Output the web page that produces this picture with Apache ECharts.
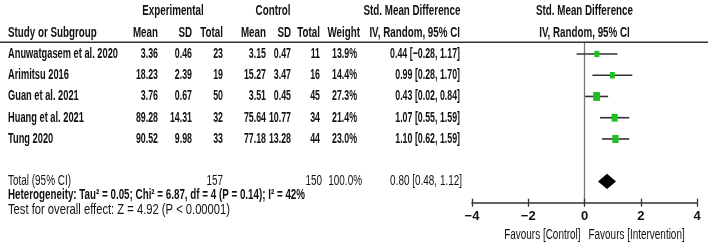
<!DOCTYPE html>
<html><head><meta charset="utf-8">
<script src="https://cdn.jsdelivr.net/npm/echarts@6/dist/echarts.min.js"></script>
<style>html,body{margin:0;padding:0;background:#fff}#c{width:709px;height:245px}</style>
</head><body><div id="c"></div>
<script>
// ---- data ----
const studies = ['Anuwatgasem et al. 2020', 'Arimitsu 2016', 'Guan et al. 2021', 'Huang et al. 2021', 'Tung 2020'];
const expMean = [3.36, 18.23, 3.76, 89.28, 90.52];
const expSD = [0.46, 2.39, 0.67, 14.31, 9.98];
const expN = [23, 19, 50, 32, 33];
const ctlMean = [3.15, 15.27, 3.51, 75.64, 77.18];
const ctlSD = [0.47, 3.47, 0.45, 10.77, 13.28];
const ctlN = [11, 16, 45, 34, 44];
const weight = [13.9, 14.4, 27.3, 21.4, 23.0];
const smd = [0.44, 0.99, 0.43, 1.07, 1.10];
const ciLow = [-0.28, 0.28, 0.02, 0.55, 0.62];
const ciHigh = [1.17, 1.70, 0.84, 1.59, 1.59];
const totalExpN = 157, totalCtlN = 150, totalWeight = 100.0;
const totalSMD = 0.80, totalLow = 0.48, totalHigh = 1.12;
const heterogeneityText = 'Heterogeneity: Tau² = 0.05; Chi² = 6.87, df = 4 (P = 0.14); I² = 42%';
const overallText = 'Test for overall effect: Z = 4.92 (P < 0.00001)';
const axisTicks = [-4, -2, 0, 2, 4];
const favourLeft = 'Favours [Control]';
const favourRight = 'Favours [Intervention]';

// ---- styling / layout ----
const FAM = '"Liberation Sans", Arial, sans-serif';
const FS = 14.5;
const TXT = '#111';
const ctx = document.createElement('canvas').getContext('2d');
function mw(s, w) { ctx.font = w + ' ' + FS + 'px ' + FAM; return ctx.measureText(s).width; }
// horizontal condensing factors (to mimic the narrow original typeface)
const S_HEAD = 297 / mw(heterogeneityText, 'bold');
const S_NAME = 110 / mw('Anuwatgasem et al. 2020', 'bold');
const S_NUM = S_HEAD * 0.9;
const S_TOT = 63 / mw('Total (95% CI)', 'normal');
const S_OVR = 222 / mw(overallText, 'normal');
const neg = s => s.replace('-', '−');
const ci = (m, l, h) => neg(m.toFixed(2)) + ' [' + neg(l.toFixed(2)) + ', ' + neg(h.toFixed(2)) + ']';
const TOTAL_ROW = 6, HET_ROW = 6.65, OVR_ROW = 7.36, AXIS_ROW = 7;

const chart = echarts.init(document.getElementById('c'), null, {renderer: 'canvas'});

function txt(x, y, s, align, bold, sc) {
  return {type: 'text', x: x, y: y, scaleX: sc,
    style: {text: s, fill: TXT, font: (bold ? 'bold ' : '') + FS + 'px ' + FAM, textAlign: align || 'right', textVerticalAlign: 'middle'}};
}

function tableItem(params, api) {
  const i = params.dataIndex;
  const y = api.coord([0, i])[1];
  const n = (x, s) => txt(x, y, s, 'right', true, S_NUM);
  return {type: 'group', children: [
    txt(8, y, studies[i], 'left', true, S_NAME),
    n(158, expMean[i].toFixed(2)),
    n(192, expSD[i].toFixed(2)),
    n(223, String(expN[i])),
    n(266, ctlMean[i].toFixed(2)),
    n(291, ctlSD[i].toFixed(2)),
    n(320, String(ctlN[i])),
    n(357, weight[i].toFixed(1) + '%'),
    n(460, ci(smd[i], ciLow[i], ciHigh[i]))
  ]};
}

function headerItem(params, api) {
  const y1 = api.coord([0, -2])[1];
  const y2 = api.coord([0, -1])[1];
  const yl = api.coord([0, -0.55])[1];
  const x0 = api.coord([0, 0])[0];
  const yt = api.coord([0, TOTAL_ROW])[1];
  const yh = api.coord([0, HET_ROW])[1];
  const yo = api.coord([0, OVR_ROW])[1];
  const h = (x, y, s, a) => txt(x, y, s, a || 'right', true, S_HEAD);
  const t = (x, s, a) => txt(x, yt, s, a || 'right', false, S_TOT);
  const ch = [
    h(173, y1, 'Experimental', 'center'),
    h(273, y1, 'Control', 'center'),
    h(412, y1, 'Std. Mean Difference', 'center'),
    h(x0, y1, 'Std. Mean Difference', 'center'),
    h(8, y2, 'Study or Subgroup', 'left'),
    h(158, y2, 'Mean'), h(192, y2, 'SD'), h(223, y2, 'Total'),
    h(266, y2, 'Mean'), h(291, y2, 'SD'), h(320, y2, 'Total'),
    h(360, y2, 'Weight'),
    h(460, y2, 'IV, Random, 95% CI'),
    h(x0, y2, 'IV, Random, 95% CI', 'center'),
    {type: 'line', shape: {x1: 0, y1: yl, x2: 708, y2: yl}, style: {stroke: '#333', lineWidth: 1.5}},
    t(8, 'Total (95% CI)', 'left'),
    t(223, String(totalExpN)),
    t(322, String(totalCtlN)),
    t(362, totalWeight.toFixed(1) + '%'),
    t(462, ci(totalSMD, totalLow, totalHigh)),
    h(8, yh, heterogeneityText, 'left'),
    txt(8, yo, overallText, 'left', false, S_OVR),
    txt(x0 - 4, 235, favourLeft, 'right', false, S_TOT),
    txt(x0 + 4, 235, favourRight, 'left', false, S_TOT)
  ];
  return {type: 'group', children: ch};
}

function forestItem(params, api) {
  const i = params.dataIndex;
  const a = api.coord([ciLow[i], i]);
  const b = api.coord([ciHigh[i], i]);
  const c = api.coord([smd[i], i]);
  const s = 1.3 * Math.sqrt(weight[i]);
  return {type: 'group', children: [
    {type: 'line', shape: {x1: a[0], y1: a[1], x2: b[0], y2: b[1]}, style: {stroke: '#333', lineWidth: 1.6}},
    {type: 'rect', shape: {x: c[0] - s / 2, y: c[1] - s * 0.65, width: s, height: s * 1.3}, style: {fill: '#1fbf1f'}}
  ]};
}

function diamondItem(params, api) {
  const l = api.coord([totalLow, TOTAL_ROW]);
  const h = api.coord([totalHigh, TOTAL_ROW]);
  const t = api.coord([totalSMD, TOTAL_ROW - 0.36]);
  const b = api.coord([totalSMD, TOTAL_ROW + 0.36]);
  return {type: 'polygon', shape: {points: [l, t, h, b]}, style: {fill: '#000'}};
}

const option = {
  animation: false,
  backgroundColor: '#fff',
  grid: {left: 472, width: 225, top: 42.3, height: 160.4},
  xAxis: [{
    type: 'value', min: axisTicks[0], max: axisTicks[axisTicks.length - 1], interval: axisTicks[1] - axisTicks[0],
    axisLine: {onZero: false, lineStyle: {color: '#333', width: 1.5}},
    axisTick: {length: 4, lineStyle: {color: '#333', width: 1.3}},
    axisLabel: {margin: 7, fontSize: 13, fontWeight: 'bold', fontFamily: FAM, color: TXT, formatter: v => neg(String(v))},
    splitLine: {show: false}
  }, {
    type: 'value', position: 'bottom', offset: 0, min: axisTicks[0], max: axisTicks[axisTicks.length - 1], interval: axisTicks[1] - axisTicks[0],
    axisLine: {show: false, onZero: false},
    axisTick: {inside: true, length: 4, lineStyle: {color: '#333', width: 1.3}},
    axisLabel: {show: false}, splitLine: {show: false}
  }],
  yAxis: {
    type: 'value', inverse: true, min: -0.55, max: AXIS_ROW,
    axisLine: {show: true, onZero: true, lineStyle: {color: '#777', width: 1.3}},
    axisTick: {show: false}, axisLabel: {show: false}, splitLine: {show: false}
  },
  series: [
    {type: 'custom', clip: false, renderItem: tableItem, data: studies.map((s, i) => [0, i])},
    {type: 'custom', clip: false, renderItem: forestItem, data: studies.map((s, i) => [smd[i], i])},
    {type: 'custom', clip: false, renderItem: diamondItem, data: [[totalSMD, TOTAL_ROW]]},
    {type: 'custom', clip: false, renderItem: headerItem, data: [[0, 0]]}
  ]
};
chart.setOption(option);
</script></body></html>
